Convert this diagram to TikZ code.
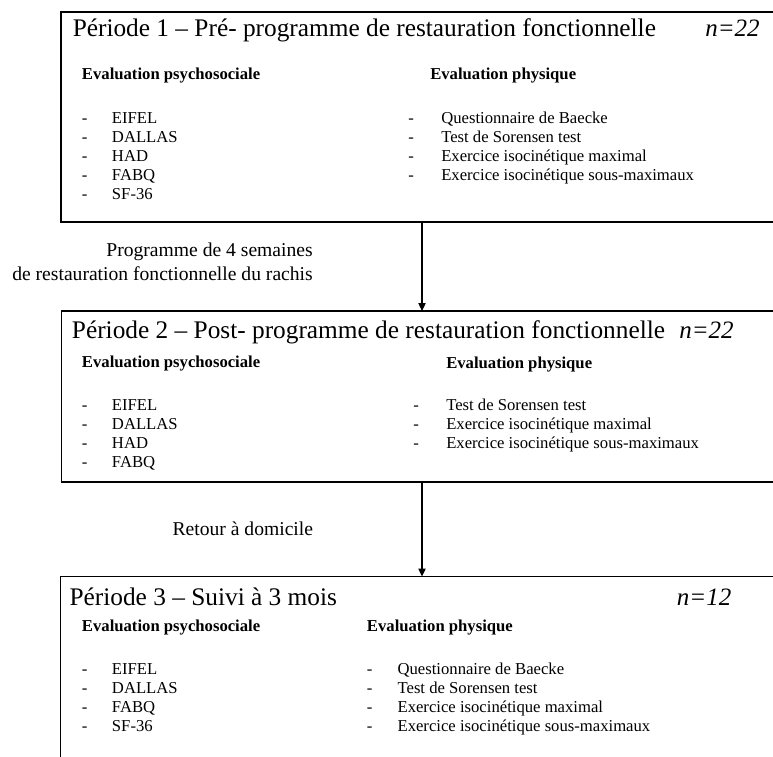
\documentclass[tikz,border=0pt]{standalone}
\usepackage{fontspec}
\setmainfont{Liberation Serif}
\usetikzlibrary{arrows.meta}
\begin{document}
\begin{tikzpicture}[x=0.75pt,y=-0.75pt,
  box/.style={draw=black, line width=1.3pt, rectangle, anchor=north west, inner sep=0pt, outer sep=0pt, minimum width=546.75pt},
  ttl/.style={anchor=base west, inner sep=0pt, font=\fontsize{19}{22}\selectfont},
  cnt/.style={anchor=base west, inner sep=0pt, font=\fontsize{18.75}{22}\selectfont\itshape},
  hdr/.style={anchor=base west, inner sep=0pt, font=\fontsize{12.5}{15}\selectfont\bfseries},
  itm/.style={anchor=base west, inner sep=0pt, font=\fontsize{12.5}{15}\selectfont},
  lbl/.style={anchor=base east, inner sep=0pt, font=\fontsize{14.7}{17.5}\selectfont},
  arr/.style={line width=0.9pt, -{Triangle[length=6pt,width=5.5pt]}}]
\useasboundingbox (0,0) rectangle (773,756);
\clip (0,0) rectangle (773,756);

% boxes
\node[box, minimum height=157.3pt] (b1) at (61,12) {};
\node[box, minimum height=128pt] (b2) at (61.5,311) {};
\node[box, minimum height=150pt] (b3) at (60.5,576.5) {};

% box 1
\node[ttl] (t1) at (72.5,36.7) {Période 1 – Pré- programme de restauration fonctionnelle};
\node[cnt] (n1) at (705,36.7) {n=22};
\node[hdr] (h1a) at (81.7,80) {Evaluation psychosociale};
\node[hdr] (h1b) at (430,80) {Evaluation physique};
\foreach \t [count=\i] in {EIFEL,DALLAS,HAD,FABQ,SF-36} {
  \node[itm] (p1d\i) at (81.5,{123.5+19*(\i-1)}) {-};
  \node[itm] (p1t\i) at (111.7,{123.5+19*(\i-1)}) {\t};
}
\foreach \t [count=\i] in {Questionnaire de Baecke,Test de Sorensen test,Exercice isocinétique maximal,Exercice isocinétique sous-maximaux} {
  \node[itm] (q1d\i) at (408,{123.5+19*(\i-1)}) {-};
  \node[itm] (q1t\i) at (441,{123.5+19*(\i-1)}) {\t};
}

% box 2
\node[ttl] (t2) at (71.7,338) {Période 2 – Post- programme de restauration fonctionnelle};
\node[cnt] (n2) at (679,338) {n=22};
\node[hdr] (h2a) at (81.7,367.5) {Evaluation psychosociale};
\node[hdr] (h2b) at (446,368) {Evaluation physique};
\foreach \t [count=\i] in {EIFEL,DALLAS,HAD,FABQ} {
  \node[itm] (p2d\i) at (81.5,{410+19*(\i-1)}) {-};
  \node[itm] (p2t\i) at (111.7,{410+19*(\i-1)}) {\t};
}
\foreach \t [count=\i] in {Test de Sorensen test,Exercice isocinétique maximal,Exercice isocinétique sous-maximaux} {
  \node[itm] (q2d\i) at (413,{410+19*(\i-1)}) {-};
  \node[itm] (q2t\i) at (446,{410+19*(\i-1)}) {\t};
}

% box 3
\node[ttl] (t3) at (69.3,605) {Période 3 – Suivi à 3 mois};
\node[cnt] (n3) at (676.7,605) {n=12};
\node[hdr] (h3a) at (81.7,631.7) {Evaluation psychosociale};
\node[hdr] (h3b) at (366.7,631.7) {Evaluation physique};
\foreach \t [count=\i] in {EIFEL,DALLAS,FABQ,SF-36} {
  \node[itm] (p3d\i) at (81.5,{674+19.2*(\i-1)}) {-};
  \node[itm] (p3t\i) at (111.7,{674+19.2*(\i-1)}) {\t};
}
\foreach \t [count=\i] in {Questionnaire de Baecke,Test de Sorensen test,Exercice isocinétique maximal,Exercice isocinétique sous-maximaux} {
  \node[itm] (q3d\i) at (366.7,{674+19.2*(\i-1)}) {-};
  \node[itm] (q3t\i) at (397.3,{674+19.2*(\i-1)}) {\t};
}

% connectors
\coordinate (ax) at (422,0);
\draw[arr] (b1.south -| ax) -- (b2.north -| ax);
\draw[arr] (b2.south -| ax) -- (b3.north -| ax);

% labels
\node[lbl] (l1a) at (313,256.7) {Programme de 4 semaines};
\node[lbl] (l1b) at (313,280) {de restauration fonctionnelle du rachis};
\node[lbl] (l2) at (313.3,535) {Retour à domicile};
\end{tikzpicture}
\end{document}
